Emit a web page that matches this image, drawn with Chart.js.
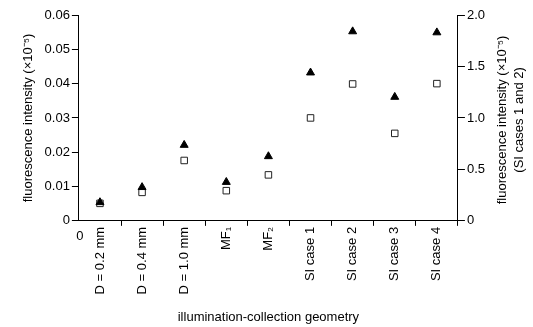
<!DOCTYPE html>
<html>
<head>
<meta charset="utf-8">
<script src="https://cdn.jsdelivr.net/npm/chart.js@4"></script>
<style>
  html, body { margin: 0; padding: 0; background: #fff; }
  #wrap { width: 533px; height: 327px; }
</style>
</head>
<body>
<div id="wrap"><canvas id="geomChart"></canvas></div>
<script>
// categories along the x axis
const categories = ['D = 0.2 mm', 'D = 0.4 mm', 'D = 1.0 mm', 'MF\u2081', 'MF\u2082',
    'SI case 1', 'SI case 2', 'SI case 3', 'SI case 4'];

// left axis values (x10^-5)
const triLeft = [0.0054, 0.0098, 0.0221, 0.0113, 0.0188, null, null, 0.0361, 0.0549];
const sqLeft  = [0.0051, 0.0083, 0.0176, 0.0088, 0.0134, null, null, 0.0255, 0.0400];

// right axis values (x10^-5), SI cases 1 and 2
const triRight = [null, null, null, null, null, 1.44, 1.84, null, null];
const sqRight  = [null, null, null, null, null, 1.00, 1.33, null, null];

const leftTicks = [0, 0.01, 0.02, 0.03, 0.04, 0.05, 0.06];
const rightTicks = [0, 0.5, 1.0, 1.5, 2.0];

const toPoints = arr => arr.map((v, i) => v === null ? null : { x: i + 0.5, y: v }).filter(p => p);

const font = { family: 'Liberation Sans, Arial, sans-serif', size: 13 };

const triStyle = {
    pointStyle: 'triangle',
    pointRadius: 4.6,
    backgroundColor: '#000',
    borderColor: '#000',
    borderWidth: 1,
};
const sqStyle = {
    pointStyle: 'rect',
    pointRadius: 4.6,
    backgroundColor: '#fff',
    borderColor: '#222',
    borderWidth: 1,
};

// right axis title reads bottom to top, like the left one; upright "0" at the origin
const extraText = {
    id: 'extraText',
    afterDraw(chart) {
        const s = chart.scales.y2;
        const ctx = chart.ctx;
        ctx.save();
        ctx.font = font.size + 'px ' + font.family;
        ctx.fillStyle = '#000';
        ctx.textAlign = 'center';
        ctx.textBaseline = 'middle';
        ctx.fillText('0', chart.chartArea.left + 1, chart.chartArea.bottom + 16);
        ctx.translate(s.right + 15, (s.top + s.bottom) / 2 + 2);
        ctx.rotate(-Math.PI / 2);
        ctx.fillText('fluorescence intensity (\u00d710\u207b\u2075)', 0, 0);
        ctx.fillText('(SI cases 1 and 2)', 0, 17);
        ctx.restore();
    }
};

const gridOff = {
    drawOnChartArea: false,
    drawTicks: true,
    tickLength: 7,
    tickColor: '#000',
};

new Chart(document.getElementById('geomChart'), {
    type: 'scatter',
    data: {
        datasets: [
            { label: 'tri', data: toPoints(triLeft), yAxisID: 'y', ...triStyle },
            { label: 'triR', data: toPoints(triRight), yAxisID: 'y2', ...triStyle },
            { label: 'sq', data: toPoints(sqLeft), yAxisID: 'y', ...sqStyle },
            { label: 'sqR', data: toPoints(sqRight), yAxisID: 'y2', ...sqStyle },
        ]
    },
    options: {
        responsive: true,
        maintainAspectRatio: false,
        animation: false,
        layout: { padding: { top: 15, right: 46, bottom: 2, left: 21 } },
        plugins: {
            legend: { display: false },
            tooltip: { enabled: false },
        },
        scales: {
            x: {
                type: 'linear',
                min: 0,
                max: categories.length,
                afterBuildTicks: axis => {
                    const t = [];
                    for (let i = 0; i <= categories.length * 2; i++) t.push({ value: i / 2 });
                    axis.ticks = t;
                },
                ticks: {
                    autoSkip: false,
                    maxRotation: 90,
                    minRotation: 90,
                    padding: 1,
                    color: '#000',
                    font,
                    callback: v => Number.isInteger(v) ? '' : categories[Math.floor(v)],
                },
                grid: {
                    ...gridOff,
                    tickLength: 5,
                    tickColor: ctx => Number.isInteger(ctx.tick.value) && ctx.tick.value > 0 ? '#000' : 'transparent',
                },
                border: { display: true, color: '#000', width: 1 },
                title: {
                    display: true,
                    text: 'illumination-collection geometry',
                    color: '#000',
                    font,
                    padding: { top: 14, bottom: 0 },
                },
            },
            y: {
                position: 'left',
                min: 0,
                max: 0.06,
                afterBuildTicks: axis => { axis.ticks = leftTicks.map(v => ({ value: v })); },
                ticks: {
                    padding: 2,
                    color: '#000',
                    font,
                    callback: v => v === 0 ? '0' : v.toFixed(2),
                },
                grid: gridOff,
                border: { display: true, color: '#000', width: 1 },
                title: {
                    display: true,
                    text: 'fluorescence intensity (\u00d710\u207b\u2075)',
                    color: '#000',
                    font,
                    padding: { top: 0, bottom: 6 },
                },
            },
            y2: {
                position: 'right',
                min: 0,
                max: 2.0,
                afterBuildTicks: axis => { axis.ticks = rightTicks.map(v => ({ value: v })); },
                ticks: {
                    padding: 2,
                    color: '#000',
                    font,
                    callback: v => v === 0 ? '0' : v.toFixed(1),
                },
                grid: gridOff,
                border: { display: true, color: '#000', width: 1 },
            },
        },
    },
    plugins: [extraText],
});
</script>
</body>
</html>
